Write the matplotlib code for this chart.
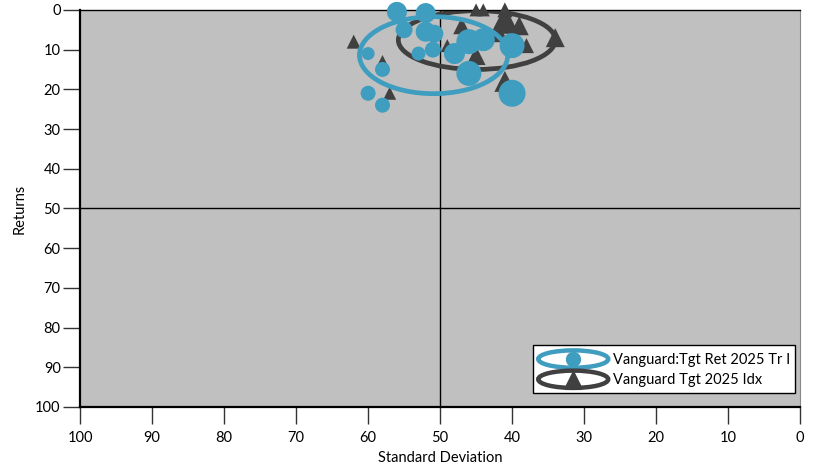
import matplotlib.pyplot as plt
from matplotlib.patches import Ellipse
from matplotlib.lines import Line2D
from matplotlib.legend_handler import HandlerBase

plt.rcParams['font.family'] = ['Lato', 'DejaVu Sans']

# Vanguard:Tgt Ret 2025 Tr I  (std dev, returns, marker diameter px)
fund_sd = [56, 52, 55, 52, 50.8, 53, 51, 60, 58, 60, 58, 48, 46, 44, 40, 46, 40]
fund_ret = [0.5, 0.8, 5, 5.5, 6, 11, 10, 11, 15, 21, 24, 11, 8, 7.5, 9, 16, 21]
fund_px = [20, 20, 17, 20, 18, 14, 16, 13, 15, 15, 15, 21, 25, 23, 25, 25, 27]

# Vanguard Tgt 2025 Idx
idx_sd = [62, 58, 57, 45, 44, 41, 47, 42, 41, 39, 34, 45, 41, 38, 45.5, 49]
idx_ret = [8, 13, 21, 0, 0, 0, 4, 5.5, 2.5, 4, 7, 11.5, 18, 9, 7.5, 9]
idx_px = [14, 13, 13, 13, 13, 15, 17, 21, 28, 19, 19, 19, 21, 15, 17, 13]

# ellipses: centre sd, centre ret, width, height
fund_ell = (50.9, 11.4, 20.6, 19.4)
idx_ell = (44.9, 7.6, 21.8, 14.8)

legend_labels = ['Vanguard:Tgt Ret 2025 Tr I', 'Vanguard Tgt 2025 Idx']

blue = '#3f9dbf'
dark = '#404040'


class HandlerEllMarker(HandlerBase):
    def __init__(self, color, marker, ms):
        super().__init__()
        self.color = color
        self.marker = marker
        self.ms = ms

    def create_artists(self, legend, orig_handle, xdescent, ydescent,
                       width, height, fontsize, trans):
        cx = width / 2 - xdescent
        cy = height / 2 - ydescent
        e = Ellipse((cx, cy), width, height, fill=False,
                    ec=self.color, lw=3.2, transform=trans)
        m = Line2D([cx], [cy], marker=self.marker, color=self.color,
                   ms=self.ms, ls='', transform=trans)
        return [e, m]


fig = plt.figure(figsize=(8.18, 4.71), dpi=100)
ax = fig.add_axes([0.098, 0.136, 0.88, 0.843])
ax.set_facecolor('#c0c0c0')

ax.set_xlim(100, 0)
ax.set_ylim(100, 0)

ax.axvline(50, color='black', lw=1, zorder=1)
ax.axhline(50, color='black', lw=1, zorder=1)

s_idx = [(p * 0.72) ** 2 for p in idx_px]
s_fund = [(p * 0.72) ** 2 for p in fund_px]

ax.add_patch(Ellipse(idx_ell[:2], idx_ell[2], idx_ell[3], fill=False,
                     ec=dark, lw=3.4, zorder=2))
ax.scatter(idx_sd, idx_ret, s=s_idx, marker='^', color=dark,
           linewidths=0, zorder=3, clip_on=False)
ax.add_patch(Ellipse(fund_ell[:2], fund_ell[2], fund_ell[3], fill=False,
                     ec=blue, lw=3.4, zorder=4))
ax.scatter(fund_sd, fund_ret, s=s_fund, marker='o', color=blue,
           linewidths=0, zorder=5, clip_on=False)

ax.set_xticks(range(0, 101, 10))
ax.set_yticks(range(0, 101, 10))
ax.tick_params(axis='x', length=12, width=1, color='#333333', labelsize=10.5, pad=5)
ax.tick_params(axis='y', length=12, width=1, color='#333333', labelsize=10.5, pad=2)

for side in ['left', 'bottom']:
    ax.spines[side].set_linewidth(1.6)
ax.spines['top'].set_linewidth(1)
ax.spines['right'].set_color('#888888')

ax.set_xlabel('Standard Deviation', fontsize=10.5, labelpad=5)
ax.set_ylabel('Returns', fontsize=10.5, labelpad=6)

h1 = Line2D([], [])
h2 = Line2D([], [])
leg = ax.legend([h1, h2], legend_labels, loc='lower right',
                handler_map={h1: HandlerEllMarker(blue, 'o', 10),
                             h2: HandlerEllMarker(dark, '^', 12)},
                handlelength=4.8, handleheight=1.45, handletextpad=0.3,
                fontsize=10.5, fancybox=False, framealpha=1,
                edgecolor='black', borderpad=0.35, labelspacing=0.2,
                borderaxespad=0, bbox_to_anchor=(0.993, 0.035))
leg.get_frame().set_linewidth(1)
leg.set_zorder(10)

fig.savefig('out.png', dpi=100)
